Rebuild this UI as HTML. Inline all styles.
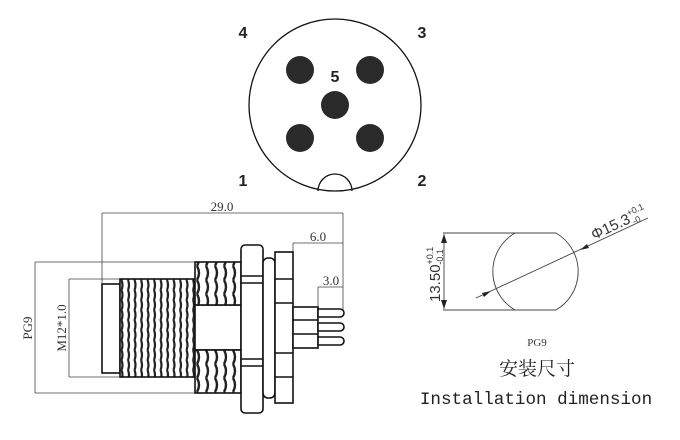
<!DOCTYPE html>
<html><head><meta charset="utf-8"><style>
body{margin:0;background:#fff;}
svg{display:block}
</style></head><body>
<svg width="680" height="440" viewBox="0 0 680 440" xmlns="http://www.w3.org/2000/svg">
<defs>
<pattern id="th" x="120" width="6.5" height="10" patternUnits="userSpaceOnUse">
<rect width="6.5" height="10" fill="#fff"/>
<path d="M1.5 0 Q3.5 5 1.5 10" stroke="#222" stroke-width="2.2" fill="none"/>
</pattern>
<pattern id="th2" x="195" width="9" height="14" patternUnits="userSpaceOnUse">
<rect width="9" height="14" fill="#fff"/>
<path d="M2 0 Q6 7 2 14" stroke="#222" stroke-width="2.4" fill="none"/>
</pattern>
</defs>
<g fill="none" stroke="#111" stroke-width="1.3">
<circle cx="335" cy="105" r="86"/>
<path d="M318 191 A17 17 0 0 1 352 191"/>
</g>
<g fill="#2a2a2a">
<circle cx="300" cy="70" r="14"/><circle cx="370" cy="70" r="14"/>
<circle cx="335" cy="105" r="14"/>
<circle cx="300" cy="138" r="14"/><circle cx="370" cy="138" r="14"/>
</g>
<g font-family="Liberation Sans, sans-serif" font-size="16" font-weight="bold" fill="#222" text-anchor="middle">
<text x="243" y="38">4</text><text x="422" y="38">3</text>
<text x="335" y="82">5</text>
<text x="243" y="186">1</text><text x="422" y="186">2</text>
</g>
<g stroke="#444" stroke-width="0.8" fill="none">
<path d="M102 213H343M102 213V283M343 213V315"/>
<path d="M293 243H343M293 243V253"/>
<path d="M318 287H343M318 287V308"/>
<path d="M35 262V393M35 262H200M35 393H200"/>
<path d="M69 279V377M69 279H120M69 377H120"/>
</g>
<g font-family="Liberation Serif, serif" font-size="13" fill="#333">
<text x="222" y="211" text-anchor="middle">29.0</text>
<text x="318" y="241" text-anchor="middle">6.0</text>
<text x="331" y="285" text-anchor="middle">3.0</text>
<text transform="translate(32 328) rotate(-90)" text-anchor="middle">PG9</text>
<text transform="translate(66 328) rotate(-90)" text-anchor="middle">M12*1.0</text>
</g>
<g stroke="#111" stroke-width="1.6">
<rect x="102" y="284" width="18" height="89" fill="#fff"/>
<rect x="120" y="279" width="76" height="98" fill="url(#th)"/>
<rect x="195" y="305" width="46" height="45" fill="#fff"/>
<rect x="195" y="262" width="46" height="43" fill="url(#th2)"/>
<rect x="195" y="350" width="46" height="43" fill="url(#th2)"/>
<rect x="241" y="245" width="22" height="168" rx="4" fill="#fff"/>
<path d="M241 283H263M241 366H263M241 276H263M241 359H263" fill="none"/>
<rect x="263" y="258" width="12" height="140" rx="5" fill="#fff"/>
<rect x="275" y="252" width="18" height="151" fill="#fff"/>
<path d="M275 279H293M275 303H293M275 353H293M275 377H293" fill="none"/>
<rect x="293" y="307" width="25" height="41" fill="#fff"/>
<path d="M293 320H318M293 334H318" fill="none"/>
<path d="M318 309H340A4 4 0 0 1 340 317H318Z M318 323H340A4 4 0 0 1 340 331H318Z M318 337H340A4 4 0 0 1 340 345H318Z" fill="#fff"/>
</g>
<g stroke="#444" stroke-width="0.9" fill="none">
<path d="M443 233H515M443 310H515M444 234V309"/>
<path d="M515 233H556A44.5 44.5 0 0 1 556 310H515A44.5 44.5 0 0 1 515 233Z"/>
<path d="M476 298L648 218"/>
</g>
<g fill="#222">
<path d="M444 234l-3 9h6z M444 309l-3 -9h6z"/>
<path d="M491 291l-9 2 2 4z M580 250l9 -2 -2 -4z"/>
</g>
<g font-family="Liberation Sans, sans-serif" fill="#333">
<text transform="translate(440 302) rotate(-90)" font-size="15">13.50<tspan font-size="9" dy="-7">+0.1</tspan><tspan font-size="9" dx="-18" dy="10">-0.1</tspan></text>
<text transform="translate(594 240) rotate(-25)" font-size="15">Φ15.3<tspan font-size="9" dy="-7">+0.1</tspan><tspan font-size="9" dx="-16" dy="10">-0</tspan></text>
</g>
<text x="537" y="346" text-anchor="middle" font-family="Liberation Serif, serif" font-size="11" fill="#333">PG9</text>
<text x="537" y="375" text-anchor="middle" font-family="Liberation Serif, 'Noto Serif CJK SC', serif" font-size="19" fill="#222">安装尺寸</text>
<text x="536" y="404" text-anchor="middle" font-family="Liberation Mono, monospace" font-size="17.6" fill="#222">Installation dimension</text>
</svg>
</body></html>
